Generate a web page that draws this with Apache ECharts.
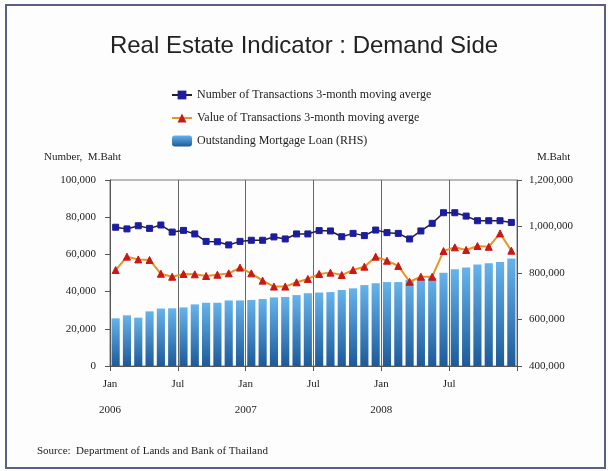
<!DOCTYPE html>
<html>
<head>
<meta charset="utf-8">
<script src="https://cdn.jsdelivr.net/npm/echarts@6/dist/echarts.min.js"></script>
<style>
  html, body { margin: 0; padding: 0; background: #fff; }
  #chart { width: 608px; height: 471px; }
</style>
</head>
<body>
<div id="chart"></div>
<script>
// months Jan 2006 - Dec 2008
var months = []
var monthNames = ['Jan', 'Feb', 'Mar', 'Apr', 'May', 'Jun', 'Jul', 'Aug', 'Sep', 'Oct', 'Nov', 'Dec']
var years = ['2006', '2007', '2008']
years.forEach(function (y) {
  monthNames.forEach(function (m) { months.push(m + ' ' + y) })
})

// tick labels on the band boundaries (every 6 months)
var tickMonths = ['Jan', 'Jul', 'Jan', 'Jul', 'Jan', 'Jul', '']
var tickYears = ['2006', '', '2007', '', '2008', '', '']

var transNumber = [74600, 73700, 75400, 74000, 75800, 72000, 72900, 71000, 67000, 66800, 65100, 67000,
  67600, 67600, 69400, 68300, 71000, 71000, 72800, 72600, 69500, 71300, 70100, 73100,
  71700, 71300, 68300, 72600, 76700, 82400, 82400, 80600, 78100, 78100, 78100, 77200]

var transValue = [51600, 58800, 57300, 57000, 49600, 48000, 49500, 49300, 48400, 49100, 49800, 52900,
  49800, 45900, 42700, 42700, 45000, 46800, 49500, 50200, 48900, 51600, 53400, 58800,
  56600, 53800, 45300, 48000, 48000, 61800, 63800, 62400, 64500, 64100, 71300, 62000]

var mortgageLoan = [605000, 618000, 608000, 635000, 647000, 648000, 652000, 665000, 672000, 672000, 682000, 682000,
  684000, 688000, 695000, 697000, 705000, 713000, 716000, 718000, 727000, 734000, 748000, 756000,
  761000, 761000, 770000, 773000, 780000, 801000, 816000, 824000, 837000, 842000, 847000, 862000]

// boundary axis: 37 slots, labels only at every 6th
var boundaryCats = []
for (var i = 0; i <= months.length; i++) {
  var k = i / 6
  boundaryCats.push(i % 6 === 0 ? (tickMonths[k] + (tickYears[k] ? '\n' + tickYears[k] : '')) : '')
}

var serif = '"Liberation Serif", "DejaVu Serif", serif'
var axisColor = '#555'

var chart = echarts.init(document.getElementById('chart'))
chart.setOption({
  backgroundColor: '#fdfdfd',
  animation: false,
  title: {
    text: 'Real Estate Indicator : Demand Side',
    left: 'center',
    top: 29,
    textStyle: { fontFamily: '"Liberation Sans", sans-serif', fontWeight: 'normal', fontSize: 24, color: '#222' }
  },
  legend: {
    orient: 'vertical',
    left: 166,
    top: 84,
    itemWidth: 20,
    itemHeight: 11,
    itemGap: 11,
    textStyle: { fontFamily: serif, fontSize: 12, color: '#222' },
    data: ['Number of Transactions 3-month moving averge', 'Value of Transactions 3-month moving averge', 'Outstanding Mortgage Loan (RHS)']
  },
  grid: {
    left: 110,
    right: 91,
    top: 180,
    bottom: 105,
    show: true,
    borderColor: '#777',
    borderWidth: 1
  },
  xAxis: [
    {
      type: 'category',
      data: months,
      boundaryGap: true,
      show: false
    },
    {
      type: 'category',
      data: boundaryCats,
      boundaryGap: false,
      position: 'bottom',
      axisLine: { lineStyle: { color: axisColor } },
      axisTick: { interval: 5, length: 5, lineStyle: { color: axisColor } },
      splitLine: { show: true, interval: 5, lineStyle: { color: '#666', width: 1 } },
      axisLabel: { interval: 0, margin: 5, lineHeight: 26, fontFamily: serif, fontSize: 11, color: '#222' }
    }
  ],
  yAxis: [
    {
      type: 'value',
      min: 0,
      max: 100000,
      interval: 20000,
      axisLine: { show: true, lineStyle: { color: axisColor } },
      axisTick: { show: true, length: 5, lineStyle: { color: axisColor } },
      splitLine: { show: false },
      axisLabel: {
        margin: 14,
        fontFamily: serif,
        fontSize: 11,
        color: '#222',
        formatter: function (v) { return v.toLocaleString('en-US') }
      }
    },
    {
      type: 'value',
      min: 400000,
      max: 1200000,
      interval: 200000,
      position: 'right',
      axisLine: { show: true, lineStyle: { color: axisColor } },
      axisTick: { show: true, length: 5, lineStyle: { color: axisColor } },
      splitLine: { show: false },
      axisLabel: {
        margin: 12,
        fontFamily: serif,
        fontSize: 11,
        color: '#222',
        formatter: function (v) { return v.toLocaleString('en-US') }
      }
    }
  ],
  graphic: [
    {
      type: 'rect',
      shape: { x: 6, y: 5, width: 599, height: 463 },
      style: { fill: 'none', stroke: '#5a5f85', lineWidth: 2 }
    },
    {
      type: 'text', left: 44, top: 152,
      style: { text: 'Number,  M.Baht', font: '11px ' + serif, fill: '#222' }
    },
    {
      type: 'text', left: 537, top: 152,
      style: { text: 'M.Baht', font: '11px ' + serif, fill: '#222' }
    },
    {
      type: 'text', left: 37, top: 446,
      style: { text: 'Source:  Department of Lands and Bank of Thailand', font: '11px ' + serif, fill: '#222' }
    }
  ],
  series: [
    {
      name: 'Outstanding Mortgage Loan (RHS)',
      type: 'bar',
      xAxisIndex: 0,
      yAxisIndex: 1,
      barWidth: '72%',
      data: mortgageLoan,
      itemStyle: {
        color: new echarts.graphic.LinearGradient(0, 0, 0, 1, [
          { offset: 0, color: '#66b3ec' },
          { offset: 1, color: '#1d5a9a' }
        ])
      }
    },
    {
      name: 'Number of Transactions 3-month moving averge',
      type: 'line',
      xAxisIndex: 0,
      yAxisIndex: 0,
      data: transNumber,
      symbol: 'rect',
      symbolSize: 6,
      lineStyle: { color: '#222', width: 1.5 },
      itemStyle: { color: '#1c1ca0', borderColor: '#1c1ca0' }
    },
    {
      name: 'Value of Transactions 3-month moving averge',
      type: 'line',
      xAxisIndex: 0,
      yAxisIndex: 0,
      data: transValue,
      symbol: 'triangle',
      symbolSize: 7,
      lineStyle: { color: '#e89420', width: 2 },
      itemStyle: { color: '#c81818', borderColor: '#c81818' }
    }
  ]
})
</script>
</body>
</html>
